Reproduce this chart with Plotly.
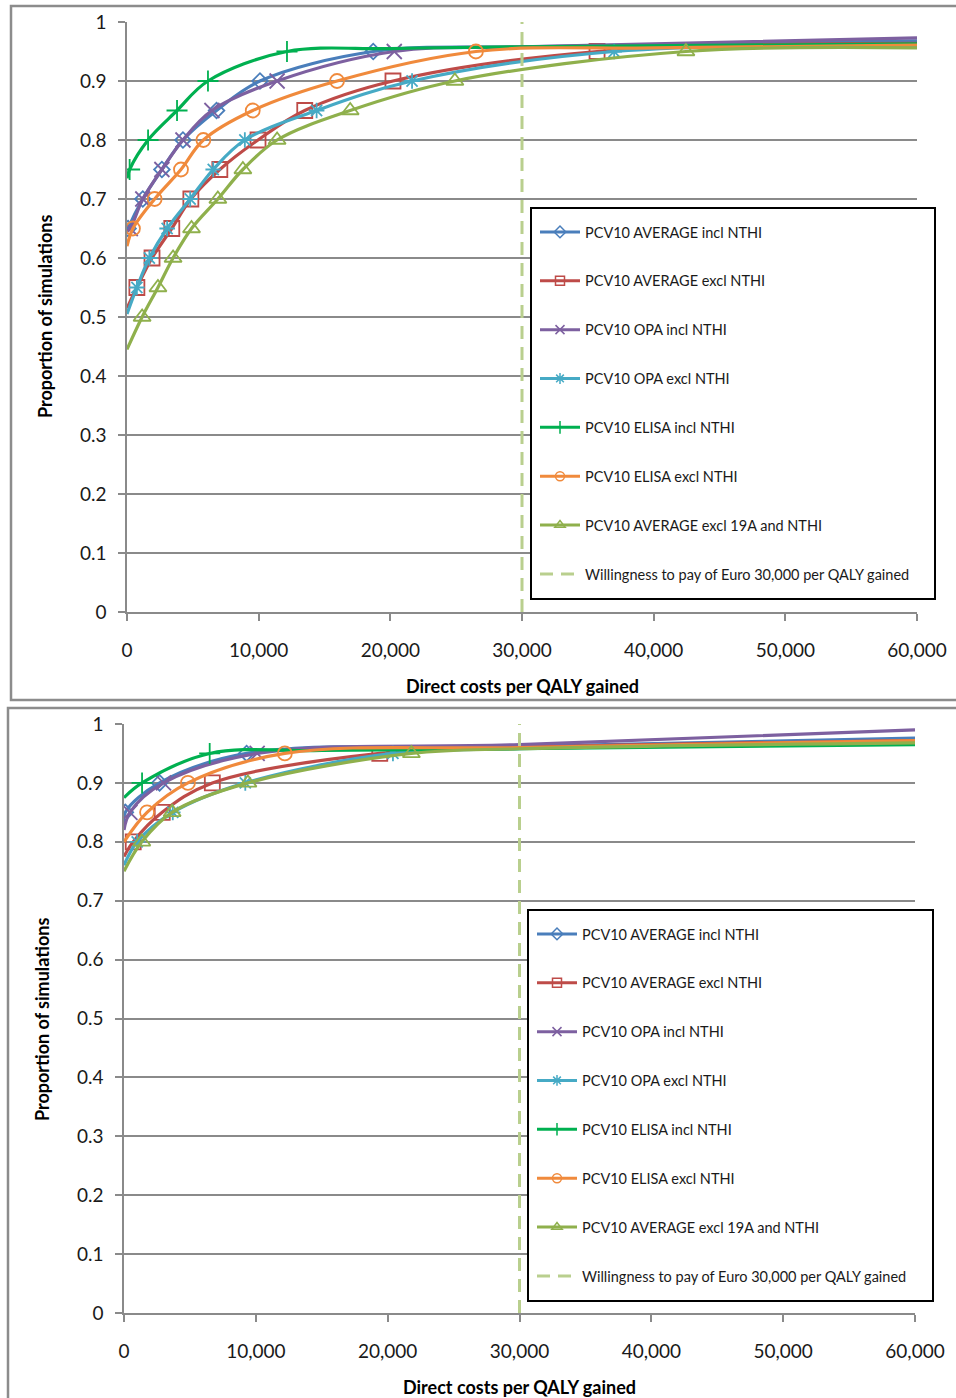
import plotly.graph_objects as go

W, H = 956, 1398

names = ["PCV10 AVERAGE incl NTHI", "PCV10 AVERAGE excl NTHI", "PCV10 OPA incl NTHI",
         "PCV10 OPA excl NTHI", "PCV10 ELISA incl NTHI", "PCV10 ELISA excl NTHI",
         "PCV10 AVERAGE excl 19A and NTHI"]
wtp_name = "Willingness to pay of Euro 30,000 per QALY gained"
wtp_x = 30000

# ---------- Top chart ----------
top_start_y = [0.645, 0.515, 0.645, 0.505, 0.735, 0.62, 0.445]
top_mark_x = [
    [80, 1200, 2650, 4250, 6800, 10100, 18700],
    [750, 1900, 3400, 4850, 7050, 9950, 13500, 20200, 35700],
    [250, 1200, 2650, 4250, 6450, 11400, 20300],
    [750, 1700, 3050, 4800, 6550, 8950, 14400, 21650, 37000],
    [200, 1600, 3800, 6150, 12150],
    [450, 2100, 4100, 5800, 9550, 15950, 26500],
    [1150, 2350, 3500, 4900, 6900, 8800, 11400, 16950, 24900, 42450],
]
top_mark_y = [
    [0.65, 0.70, 0.75, 0.80, 0.85, 0.90, 0.95],
    [0.55, 0.60, 0.65, 0.70, 0.75, 0.80, 0.85, 0.90, 0.95],
    [0.65, 0.70, 0.75, 0.80, 0.85, 0.90, 0.95],
    [0.55, 0.60, 0.65, 0.70, 0.75, 0.80, 0.85, 0.90, 0.95],
    [0.75, 0.80, 0.85, 0.90, 0.95],
    [0.65, 0.70, 0.75, 0.80, 0.85, 0.90, 0.95],
    [0.50, 0.55, 0.60, 0.65, 0.70, 0.75, 0.80, 0.85, 0.90, 0.95],
]
top_tail_x = [
    [30000, 60000],
    [60000],
    [30000, 60000],
    [60000],
    [20000, 30000, 60000],
    [40000, 60000],
    [60000],
]
top_tail_y = [
    [0.958, 0.968],
    [0.964],
    [0.958, 0.973],
    [0.960],
    [0.955, 0.958, 0.963],
    [0.956, 0.961],
    [0.956],
]

# ---------- Bottom chart ----------
bot_start_y = [0.825, 0.775, 0.82, 0.76, 0.875, 0.80, 0.75]
bot_mark_x = [
    [100, 2700, 9300],
    [700, 2900, 6700, 19400],
    [450, 3000, 10100],
    [1000, 3700, 9200, 20400],
    [1370, 6500],
    [1750, 4850, 12200],
    [1350, 3650, 9400, 21800],
]
bot_mark_y = [
    [0.85, 0.90, 0.95],
    [0.80, 0.85, 0.90, 0.95],
    [0.85, 0.90, 0.95],
    [0.80, 0.85, 0.90, 0.95],
    [0.90, 0.95],
    [0.85, 0.90, 0.95],
    [0.80, 0.85, 0.90, 0.95],
]
bot_tail_x = [
    [30000, 60000],
    [30000, 60000],
    [30000, 60000],
    [30000, 60000],
    [15000, 30000, 60000],
    [30000, 60000],
    [30000, 60000],
]
bot_tail_y = [
    [0.962, 0.976],
    [0.960, 0.972],
    [0.965, 0.990],
    [0.958, 0.968],
    [0.955, 0.958, 0.965],
    [0.960, 0.972],
    [0.958, 0.968],
]

x_ticks = [0, 10000, 20000, 30000, 40000, 50000, 60000]
x_ticklabels = ["0", "10,000", "20,000", "30,000", "40,000", "50,000", "60,000"]
y_ticks = [0, 0.1, 0.2, 0.3, 0.4, 0.5, 0.6, 0.7, 0.8, 0.9, 1.0]
y_ticklabels = ["0", "0.1", "0.2", "0.3", "0.4", "0.5", "0.6", "0.7", "0.8", "0.9", "1"]

# ---------- styles ----------
colors = ["#4A7EBB", "#BE4B48", "#7D60A0", "#46AAC5", "#00B050", "#F08A3C", "#8FB04C"]
symbols = ["diamond-open", "square-open", "x-thin-open", "asterisk-open",
           "cross-thin-open", "circle-open", "triangle-up-open"]
msize = [12, 15, 15, 13, 15, 14, 15]
wtp_color = "#B9CF8E"
grid_color = "#8A8A8A"
FONT = "Lato"

fig = go.Figure()


def px_x(p):
    return p / W


def px_y(p):
    return 1 - p / H


charts = [
    dict(xa="x", ya="y", legend="legend", start=top_start_y, mx=top_mark_x, my=top_mark_y,
         tx=top_tail_x, ty=top_tail_y),
    dict(xa="x2", ya="y2", legend="legend2", start=bot_start_y, mx=bot_mark_x, my=bot_mark_y,
         tx=bot_tail_x, ty=bot_tail_y),
]

for c in charts:
    for i in range(len(names)):
        lx = [0] + c["mx"][i] + c["tx"][i]
        ly = [c["start"][i]] + c["my"][i] + c["ty"][i]
        fig.add_trace(go.Scatter(x=lx, y=ly, mode="lines", xaxis=c["xa"], yaxis=c["ya"],
                                 line=dict(color=colors[i], width=3.2, shape="spline", smoothing=1),
                                 showlegend=False, hoverinfo="skip"))
        fig.add_trace(go.Scatter(x=c["mx"][i], y=c["my"][i], mode="markers", xaxis=c["xa"], yaxis=c["ya"],
                                 marker=dict(symbol=symbols[i], size=msize[i], color=colors[i],
                                             line=dict(color=colors[i], width=1.8)),
                                 showlegend=False, name=names[i]))
    fig.add_trace(go.Scatter(x=[wtp_x, wtp_x], y=[0, 1], mode="lines", xaxis=c["xa"], yaxis=c["ya"],
                             line=dict(color=wtp_color, width=3, dash="13px,8px"),
                             showlegend=False, hoverinfo="skip"))
    for i in range(len(names)):
        fig.add_trace(go.Scatter(x=[None], y=[None], mode="lines+markers", xaxis=c["xa"], yaxis=c["ya"],
                                 name=names[i], legend=c["legend"], legendgroup=c["legend"] + str(i),
                                 line=dict(color=colors[i], width=3),
                                 marker=dict(symbol=symbols[i], size=9, color=colors[i],
                                             line=dict(color=colors[i], width=1.5))))
    fig.add_trace(go.Scatter(x=[None], y=[None], mode="lines", xaxis=c["xa"], yaxis=c["ya"],
                             name=wtp_name, legend=c["legend"], legendgroup=c["legend"] + "w",
                             line=dict(color=wtp_color, width=3, dash="13px,8px")))

axis_common = dict(showline=True, linecolor=grid_color, linewidth=1.5, ticks="outside",
                   ticklen=7, tickcolor=grid_color, tickwidth=1.5, automargin=False,
                   tickfont=dict(family=FONT, size=19, color="#1a1a1a"), zeroline=False)

leg_font = dict(family=FONT, size=14.5, color="#1a1a1a")

fig.update_layout(
    width=W, height=H, margin=dict(l=0, r=0, t=0, b=0, autoexpand=False),
    paper_bgcolor="white", plot_bgcolor="white",
    xaxis=dict(domain=[px_x(127), px_x(917)], anchor="y", range=[0, 60000],
               tickvals=x_ticks, ticktext=x_ticklabels, showgrid=False,
               ticklabelstandoff=13, **axis_common),
    yaxis=dict(domain=[px_y(612), px_y(22)], anchor="x", range=[0, 1],
               tickvals=y_ticks, ticktext=y_ticklabels, showgrid=True, gridcolor=grid_color,
               gridwidth=1.5, ticklabelstandoff=8, **axis_common),
    xaxis2=dict(domain=[px_x(124), px_x(915)], anchor="y2", range=[0, 60000],
                tickvals=x_ticks, ticktext=x_ticklabels, showgrid=False,
                ticklabelstandoff=13, **axis_common),
    yaxis2=dict(domain=[px_y(1313), px_y(724)], anchor="x2", range=[0, 1],
                tickvals=y_ticks, ticktext=y_ticklabels, showgrid=True, gridcolor=grid_color,
                gridwidth=1.5, ticklabelstandoff=8, **axis_common),
    legend=dict(x=px_x(535), y=px_y(216), xanchor="left", yanchor="top",
                bgcolor="rgba(0,0,0,0)", borderwidth=0, tracegroupgap=27,
                font=leg_font, itemwidth=40),
    legend2=dict(x=px_x(532), y=px_y(918), xanchor="left", yanchor="top",
                 bgcolor="rgba(0,0,0,0)", borderwidth=0, tracegroupgap=27,
                 font=leg_font, itemwidth=40),
    shapes=[
        dict(type="rect", xref="paper", yref="paper", x0=px_x(11), y0=px_y(700), x1=px_x(962), y1=px_y(6),
             line=dict(color="#8C8C8C", width=2.5), layer="below"),
        dict(type="rect", xref="paper", yref="paper", x0=px_x(8), y0=px_y(1405), x1=px_x(962), y1=px_y(708),
             line=dict(color="#8C8C8C", width=2.5), layer="below"),
        dict(type="rect", xref="paper", yref="paper", x0=px_x(531), y0=px_y(599), x1=px_x(935), y1=px_y(208),
             line=dict(color="black", width=2), fillcolor="white", layer="above"),
        dict(type="rect", xref="paper", yref="paper", x0=px_x(528), y0=px_y(1301), x1=px_x(933), y1=px_y(910),
             line=dict(color="black", width=2), fillcolor="white", layer="above"),
    ],
    annotations=[
        dict(text="<b>Direct costs per QALY gained</b>", x=px_x(522), y=px_y(686), xref="paper", yref="paper",
             xanchor="center", yanchor="middle",
             showarrow=False, font=dict(family=FONT, size=18, color="black")),
        dict(text="<b>Proportion of simulations</b>", x=px_x(45), y=px_y(317), xref="paper", yref="paper",
             xanchor="center", yanchor="middle",
             showarrow=False, textangle=-90, font=dict(family=FONT, size=18, color="black")),
        dict(text="<b>Direct costs per QALY gained</b>", x=px_x(519), y=px_y(1387), xref="paper", yref="paper",
             xanchor="center", yanchor="middle",
             showarrow=False, font=dict(family=FONT, size=18, color="black")),
        dict(text="<b>Proportion of simulations</b>", x=px_x(42), y=px_y(1020), xref="paper", yref="paper",
             xanchor="center", yanchor="middle",
             showarrow=False, textangle=-90, font=dict(family=FONT, size=18, color="black")),
    ],
)

fig.write_html("out.html")
